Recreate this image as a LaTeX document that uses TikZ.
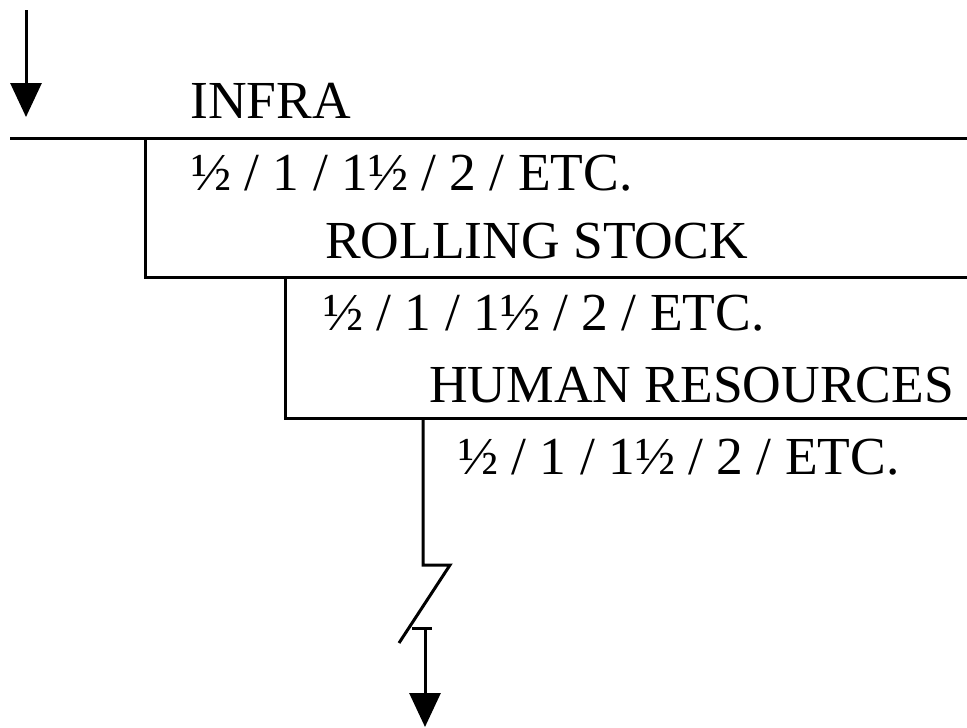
\documentclass[tikz,border=0pt]{standalone}
\usepackage{fontspec}
\setmainfont{Liberation Serif}
\usetikzlibrary{arrows.meta}
\begin{document}
\begin{tikzpicture}[x=1pt,y=-1pt,
  lbl/.style={inner sep=0pt,anchor=base west,font=\fontsize{53.5}{60}\selectfont},
  ln/.style={line width=3pt},
  arr/.style={ln,-{Triangle[width=31pt,length=34pt]}}]
\useasboundingbox (0,0) rectangle (967,728);
% coordinates
\coordinate (t0) at (26,10);
\coordinate (t1) at (26,117);
\coordinate (a0) at (10,138);
\coordinate (a1) at (967,138);
\coordinate (b0) at (145,138);
\coordinate (b1) at (145,277);
\coordinate (b2) at (967,277);
\coordinate (c0) at (285,277);
\coordinate (c1) at (285,418);
\coordinate (c2) at (967,418);
\coordinate (d0) at (423,418);
\coordinate (d1) at (423,565);
\coordinate (d2) at (450,565);
\coordinate (d3) at (399,643);
\coordinate (e0) at (412,628);
\coordinate (e1) at (432,628);
\coordinate (e2) at (425,628);
\coordinate (e3) at (425,727);
% connectors
\draw[arr] (t0) -- (t1);
\draw[ln] (a0) -- (a1);
\draw[ln] (b0) -- (b1) -- (b2);
\draw[ln] (c0) -- (c1) -- (c2);
\draw[ln] (d0) -- (d1) -- (d2) -- (d3);
\draw[ln] (e0) -- (e1);
\draw[arr] (e2) -- (e3);
% labels
\node[lbl] (infra) at (190,118) {INFRA};
\node[lbl] (f1) at (191,190) {½ / 1 / 1½ / 2 / ETC.};
\node[lbl] (rs) at (325,258) {ROLLING STOCK};
\node[lbl] (f2) at (323,330) {½ / 1 / 1½ / 2 / ETC.};
\node[lbl] (hr) at (429,402) {HUMAN RESOURCES};
\node[lbl] (f3) at (458,474) {½ / 1 / 1½ / 2 / ETC.};
\end{tikzpicture}
\end{document}
